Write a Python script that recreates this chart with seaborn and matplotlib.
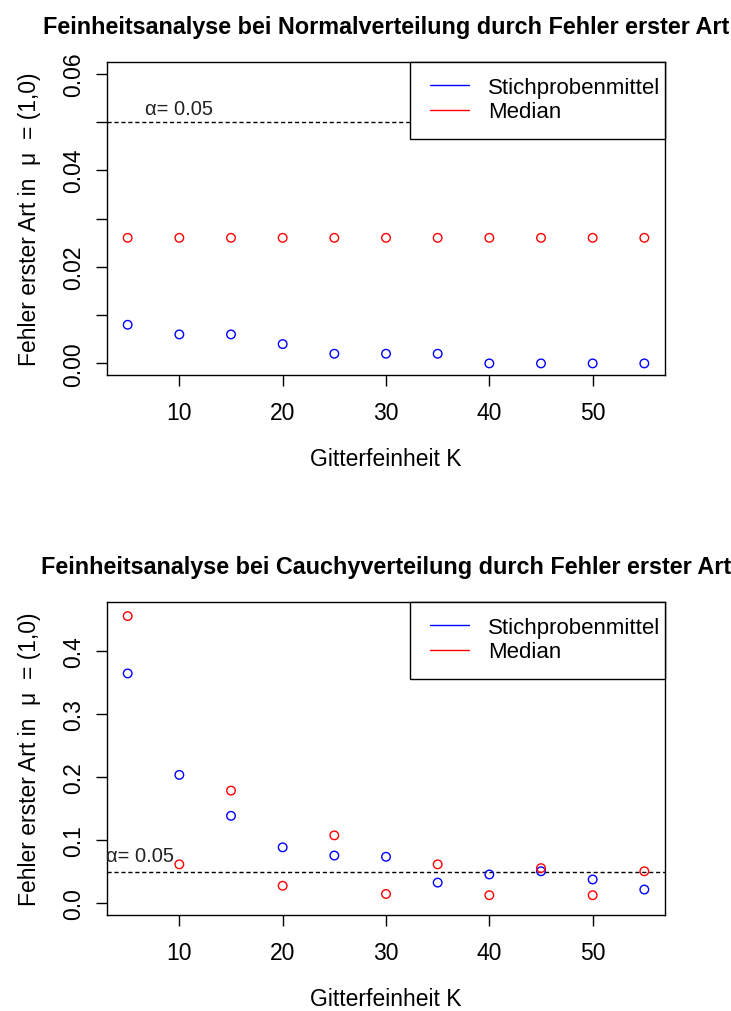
import numpy as np
import pandas as pd
import matplotlib
matplotlib.use("Agg")
import matplotlib.pyplot as plt
from matplotlib.lines import Line2D
from matplotlib.patches import Rectangle
import seaborn as sns

# Grid fineness K
K = [5, 10, 15, 20, 25, 30, 35, 40, 45, 50, 55]

# Type I error under the normal distribution
normal_mean = [0.008, 0.006, 0.006, 0.004, 0.002, 0.002, 0.002, 0.0, 0.0, 0.0, 0.0]
normal_median = [0.026] * 11

# Type I error under the Cauchy distribution
cauchy_mean = [0.365, 0.204, 0.139, 0.089, 0.076, 0.074, 0.033, 0.046, 0.051, 0.038, 0.022]
cauchy_median = [0.456, 0.062, 0.179, 0.028, 0.108, 0.015, 0.062, 0.013, 0.056, 0.013, 0.051]

alpha_level = 0.05
series_names = ["Stichprobenmittel", "Median"]
series_colors = {"Stichprobenmittel": "#0000FF", "Median": "#FF0000"}

sns.set_style("ticks")
plt.rcParams["font.family"] = ["Liberation Sans", "DejaVu Sans"]
plt.rcParams["axes.linewidth"] = 1.0
plt.rcParams["xtick.major.size"] = 7.7
plt.rcParams["ytick.major.size"] = 7.7
plt.rcParams["xtick.major.width"] = 1.0
plt.rcParams["ytick.major.width"] = 1.0
plt.rcParams["xtick.color"] = "black"
plt.rcParams["ytick.color"] = "black"
plt.rcParams["xtick.labelcolor"] = "black"
plt.rcParams["ytick.labelcolor"] = "black"
plt.rcParams["axes.edgecolor"] = "black"
plt.rcParams["axes.labelcolor"] = "black"
plt.rcParams["text.color"] = "black"

W, H = 731, 1012
fig = plt.figure(figsize=(W / 100, H / 100), dpi=100)

FS = 16.5
AX_LEFT, AX_RIGHT = 107, 665


def frame(vals_mean, vals_median):
    return pd.DataFrame({
        "K": K + K,
        "Fehler": vals_mean + vals_median,
        "Serie": [series_names[0]] * len(K) + [series_names[1]] * len(K),
    })


def panel(top_px, title, df, ylim, yticks, ytick_labels, alpha_xy):
    bottom_px = top_px + 313
    ax = fig.add_axes([AX_LEFT / W, 1 - bottom_px / H, (AX_RIGHT - AX_LEFT) / W, 313 / H])
    sns.scatterplot(data=df, x="K", y="Fehler", hue="Serie", palette=series_colors,
                    s=38, linewidth=1.0, legend=False, ax=ax, zorder=3)
    for coll in ax.collections:
        fc = coll.get_facecolors()
        coll.set_edgecolors(fc)
        coll.set_facecolors("none")
    ax.axhline(alpha_level, color="black", linestyle=(0, (3, 2)), linewidth=1.0, zorder=1)
    ax.text(alpha_xy[0], alpha_xy[1], "α= 0.05", ha="center", va="center",
            fontsize=14.5, color="#222222")
    ax.set_xlim(3, 57)
    ax.set_ylim(*ylim)
    ax.set_xticks([10, 20, 30, 40, 50])
    ax.set_yticks(yticks)
    ax.set_yticklabels(ytick_labels, rotation=90, va="center")
    ax.tick_params(axis="x", labelsize=FS, pad=11)
    ax.tick_params(axis="y", labelsize=FS, pad=8)
    ax.set_xlabel("Gitterfeinheit K", fontsize=FS, labelpad=16.5)
    ax.set_ylabel("Fehler erster Art in  μ  = (1,0)", fontsize=FS, labelpad=15)
    for sp in ax.spines.values():
        sp.set_visible(True)
        sp.set_color("black")

    # legend box in the upper right corner
    bx0 = (410 - AX_LEFT) / (AX_RIGHT - AX_LEFT)
    bh = (140 - 63) / 313
    ax.add_patch(Rectangle((bx0, 1 - bh), 1 - bx0, bh, transform=ax.transAxes,
                           facecolor="white", edgecolor="black", linewidth=1.0,
                           zorder=4, clip_on=False))
    handles = [Line2D([0], [0], color=series_colors[n], lw=1.0) for n in series_names]
    leg = ax.legend(handles, series_names, loc="upper left",
                    bbox_to_anchor=((430 - AX_LEFT) / (AX_RIGHT - AX_LEFT), 1 - 15 / 313),
                    borderaxespad=0, borderpad=0, fontsize=16, frameon=False,
                    handlelength=1.75, handletextpad=0.85, labelspacing=0.15)
    leg.set_zorder(5)
    fig.text((AX_LEFT + AX_RIGHT) / 2 / W, 1 - (top_px - 38) / H, title,
             ha="center", va="center_baseline", fontsize=16.8, fontweight="bold")
    return ax


ax1 = panel(63,
            "Feinheitsanalyse bei Normalverteilung durch Fehler erster Art",
            frame(normal_mean, normal_median),
            (-0.0024, 0.0624),
            [0, 0.01, 0.02, 0.03, 0.04, 0.05, 0.06],
            ["0.00", "", "0.02", "", "0.04", "", "0.06"],
            (10, 0.0527))

ax2 = panel(603,
            "Feinheitsanalyse bei Cauchyverteilung durch Fehler erster Art",
            frame(cauchy_mean, cauchy_median),
            (-0.0184, 0.4784),
            [0, 0.1, 0.2, 0.3, 0.4],
            ["0.0", "0.1", "0.2", "0.3", "0.4"],
            (6.24, 0.0767))

fig.savefig("out.png", dpi=100)
